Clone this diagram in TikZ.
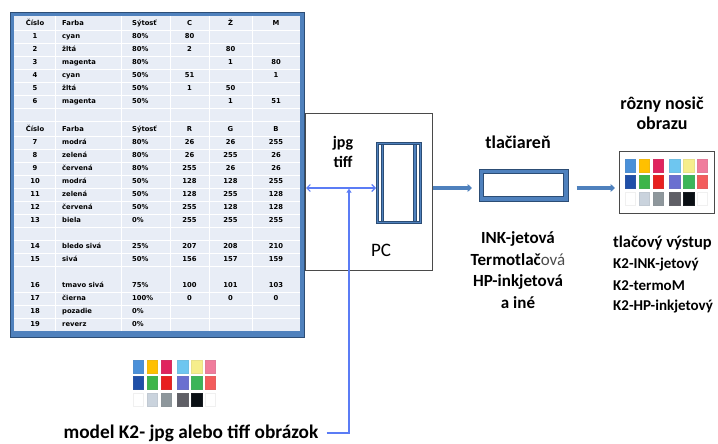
\documentclass[tikz,border=0pt]{standalone}
\usepackage{fontspec}
\setmainfont{Carlito}
\newfontfamily\tabfont{DejaVu Sans}
\usetikzlibrary{arrows.meta}

% frame and arrow colours
\definecolor{tblue}{HTML}{4F81BD}
\definecolor{tdark}{HTML}{2C4D75}
\definecolor{cellbg}{HTML}{E8EDF6}
\definecolor{feed}{HTML}{5B7CF5}
\definecolor{frame}{HTML}{4A4A4A}
% palette swatches: row / column
\definecolor{p11}{HTML}{4A90D9}\definecolor{p12}{HTML}{FFC000}\definecolor{p13}{HTML}{E0245E}
\definecolor{p14}{HTML}{6EC6F0}\definecolor{p15}{HTML}{F6EE8C}\definecolor{p16}{HTML}{F07C9C}
\definecolor{p21}{HTML}{1F4FA8}\definecolor{p22}{HTML}{3DB54A}\definecolor{p23}{HTML}{E82020}
\definecolor{p24}{HTML}{6A6FD0}\definecolor{p25}{HTML}{3CB559}\definecolor{p26}{HTML}{F35C5C}
\definecolor{p31}{HTML}{FFFFFF}\definecolor{p32}{HTML}{CAD3DD}\definecolor{p33}{HTML}{8E979C}
\definecolor{p34}{HTML}{5F5F66}\definecolor{p35}{HTML}{0A0F14}\definecolor{p36}{HTML}{FFFFFF}

\tikzset{
  palette/.pic={
    \foreach \r/\ry in {1/0,2/16.5,3/33}
      \foreach \c/\cx in {1/0,2/14,3/28,4/44.5,5/58.5,6/72}
        \filldraw[fill=p\r\c, draw=p\r\c!88!gray, line width=.4pt]
          (\cx,\ry) rectangle ++(10.5,13);
  },
  tcell/.style={font=\tabfont\bfseries\fontsize{6.8}{7}\selectfont,
    inner sep=0pt, text height=5pt, text depth=1.3pt},
  tnum/.style={tcell, anchor=center},
  tname/.style={tcell, anchor=west},
  lbl/.style={font=\bfseries\fontsize{18}{21}\selectfont, inner sep=1pt},
  blockarrow/.style={draw=tblue, line width=3.6pt,
    -{Triangle[length=4.5pt,width=8pt]}},
  ioarrow/.style={draw=feed, line width=1.1pt,
    {Straight Barb[length=3.5pt,width=7pt]}-{Straight Barb[length=3.5pt,width=7pt]}},
  feedarrow/.style={draw=feed, line width=1.1pt, -{Triangle[length=4pt,width=5pt]}},
}

\begin{document}
\begin{tikzpicture}[x=1pt,y=-1pt]
\useasboundingbox (0,0) rectangle (718,444);

% ---------- colour table ----------
\node[draw=tdark, fill=tblue, line width=.6pt, minimum width=294pt, minimum height=325pt,
      inner sep=0pt, anchor=north west] (tbl) at (10,12) {};
\fill[cellbg] (14,16) rectangle (300,331);
\foreach \gy in {30.5,43.5,56.5,69.5,82.5,95.5,108.5,121.5,136.5,149.5,162.5,175.5,
                 188.5,201.5,214.5,227.5,240.5,253.5,266.5,292.5,305.5,318.5}
  \draw[white, line width=.9pt] (14,\gy) -- (300,\gy);
\foreach \gx in {55,121,170,209,252}
  \draw[white, line width=.9pt] (\gx,16) -- (\gx,331);

\foreach \y/\n/\f/\s/\a/\b/\c in {
   24/Číslo/Farba/Sýtosť/C/Ž/M,
   37/1/cyan/80\%/80/{}/{},
   50/2/žltá/80\%/2/80/{},
   63/3/magenta/80\%/{}/1/80,
   76/4/cyan/50\%/51/{}/1,
   89/5/žltá/50\%/1/50/{},
   102/6/magenta/50\%/{}/1/51,
   130/Číslo/Farba/Sýtosť/R/G/B,
   143/7/modrá/80\%/26/26/255,
   156/8/zelená/80\%/26/255/26,
   169/9/červená/80\%/255/26/26,
   182/10/modrá/50\%/128/128/255,
   195/11/zelená/50\%/128/255/128,
   208/12/červená/50\%/255/128/128,
   221/13/biela/0\%/255/255/255,
   247/14/bledo sivá/25\%/207/208/210,
   260/15/sivá/50\%/156/157/159,
   286/16/tmavo sivá/75\%/100/101/103,
   299/17/čierna/100\%/0/0/0,
   312/18/pozadie/0\%/{}/{}/{},
   325/19/reverz/0\%/{}/{}/{}}{
  \node[tnum]  (n\y) at (35,\y)    {\n};
  \node[tname] (f\y) at (62,\y)    {\f};
  \node[tname] (s\y) at (132,\y)   {\s};
  \node[tnum]  (a\y) at (189.5,\y) {\a};
  \node[tnum]  (b\y) at (230.5,\y) {\b};
  \node[tnum]  (c\y) at (276,\y)   {\c};
}

% ---------- model palette and caption ----------
\pic at (133,360) {palette};
\node[lbl, font=\bfseries\fontsize{19.3}{21}\selectfont] (cap) at (191,433)
  {model K2- jpg alebo tiff obrázok};

% ---------- PC ----------
\node[draw=frame, line width=.7pt, minimum width=127pt, minimum height=157pt,
      inner sep=0pt, anchor=north west] (pc) at (305,113) {};
\node[draw=tdark, fill=tblue, line width=.5pt, minimum width=45pt, minimum height=81pt,
      inner sep=0pt, anchor=north west] (disk) at (376,142) {};
\filldraw[fill=white, draw=tdark, line width=.5pt] (378,144) rectangle (419,221);
\filldraw[fill=tblue, draw=tdark, line width=.5pt] (381,144) rectangle (383.5,221);
\filldraw[fill=tblue, draw=tdark, line width=.5pt] (413.5,144) rectangle (416,221);
\node[lbl, font=\bfseries\fontsize{16}{20}\selectfont, align=center] (fmt) at (343,152)
  {jpg\\tiff};
\node[lbl, font=\fontsize{19}{21}\selectfont] (pclbl) at (381,250) {PC};

\coordinate (ioL) at (306,188);
\coordinate (ioJ) at (349,188);
\draw[ioarrow] (ioL) -- (ioL -| disk.west);
\draw[feedarrow, shorten <=7pt, shorten >=.6pt] (cap.east) -| (ioJ);

% ---------- printer ----------
\node[draw=tdark, fill=tblue, line width=.6pt, minimum width=89pt, minimum height=32pt,
      inner sep=0pt, anchor=north west] (prn) at (479,169) {};
\filldraw[fill=white, draw=tdark, line width=.5pt] (483.5,173.5) rectangle (563.5,196.5);
\node[lbl] (prnlbl) at (518,142) {tlačiareň};
\node[lbl, font=\bfseries\fontsize{17}{21.5}\selectfont, align=center] (kinds) at (518,270)
  {INK-jetová\\Termotlač{\mdseries\color{black!70}ová}\\HP-inkjetová\\a iné};

\draw[blockarrow, shorten >=7pt] (pc.east |- ioL) -- (prn.west |- ioL);

% ---------- output medium ----------
\node[draw=frame, line width=.7pt, minimum width=95pt, minimum height=62pt,
      inner sep=0pt, anchor=north west] (out) at (619,151) {};
\pic at (625,159) {palette};
\node[lbl, align=center, font=\bfseries\fontsize{18}{20}\selectfont] (carrier) at (662,113)
  {rôzny nosič\\obrazu};
\draw[blockarrow, shorten <=8pt, shorten >=4pt] (prn.east |- ioL) -- (out.west |- ioL);

\node[lbl, anchor=west, font=\bfseries\fontsize{16.5}{21}\selectfont] (outlbl) at (612,243) {tlačový výstup};
\node[lbl, anchor=west, font=\bfseries\fontsize{15}{21}\selectfont] (k2a) at (612,265) {K2-INK-jetový};
\node[lbl, anchor=west, font=\bfseries\fontsize{15}{21}\selectfont] (k2b) at (612,286) {K2-termoM};
\node[lbl, anchor=west, font=\bfseries\fontsize{15}{21}\selectfont] (k2c) at (612,307) {K2-HP-inkjetový};
\end{tikzpicture}
\end{document}
